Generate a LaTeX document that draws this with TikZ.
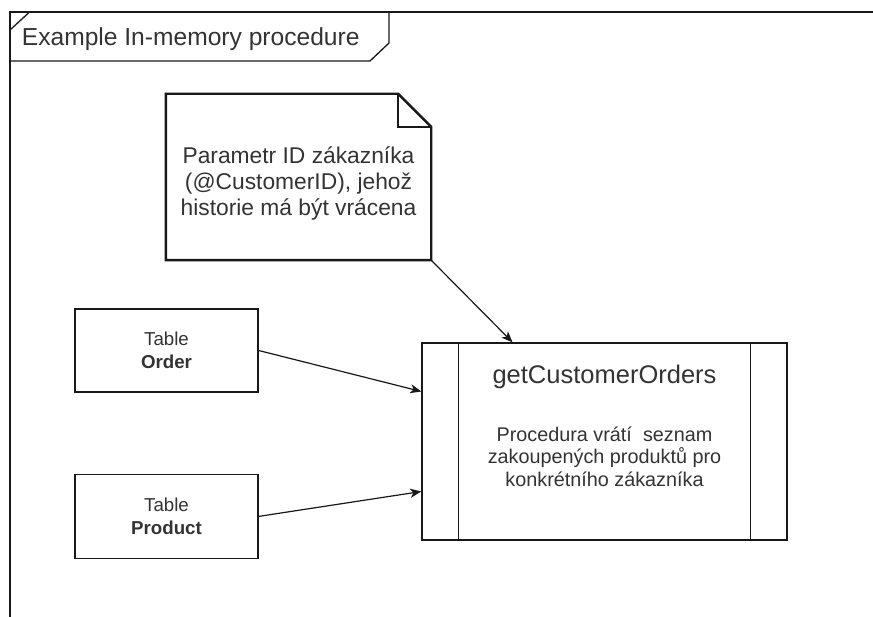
\documentclass[tikz,border=0pt]{standalone}
\usepackage{fontspec}
\setmainfont{Liberation Sans}
\usetikzlibrary{arrows.meta,positioning}
\definecolor{umlline}{RGB}{24,24,24}
\definecolor{umltext}{RGB}{51,51,51}
\tikzstyle{arrow} = [line width=1.2pt,-{Stealth[length=11pt,width=9pt,inset=3pt]},color=umlline]
\tikzstyle{frameline} = [line width=1.3pt, color=umlline]
\tikzstyle{noteline} = [line width=2.4pt, color=umlline, line join=miter]
\tikzstyle{notebox} = [rectangle, minimum width=265pt, minimum height=166pt]
\tikzstyle{tablebox} = [rectangle, draw=umlline, line width=1.4pt, minimum width=183pt,
    minimum height=83pt, text=umltext, align=center, font=\fontsize{18.7}{22.7}\selectfont]
\tikzstyle{procbox} = [rectangle, draw=umlline, line width=1.4pt, minimum width=365pt, minimum height=197pt]

\begin{document}
\begin{tikzpicture}[x=1pt, y=-1pt, >=Stealth]
\useasboundingbox (0,0) rectangle (873,617);
\draw[frameline] (10,617) -- (10,12) -- (873,12);
\node[anchor=base west, inner sep=0pt, text=umltext, font=\fontsize{24.6}{29}\selectfont] (title) at (21.7,45.5) {Example In-memory procedure};
\draw[frameline] (10,61) -- (370,61) -- (389,43) -- (389,12);
\draw[frameline] (10,30) -- (28.5,13);
\node[notebox] (param) at (298.5,177) {};
\draw[noteline] (param.north west) -- ([xshift=-33pt]param.north east) -- ([yshift=-33pt]param.north east)
    -- (param.south east) -- (param.south west) -- cycle;
\draw[noteline] ([xshift=-33pt]param.north east) |- ([yshift=-33pt]param.north east);
\node[text=umltext, align=center, font=\fontsize{22.8}{26}\selectfont] (paramtext) at ([yshift=-6.5pt]param.center)
    {Parametr ID zákazníka\\(@CustomerID), jehož\\historie má být vrácena};
\node[tablebox] (order) at (166.5,350.5) {Table\\\textbf{Order}};
\node[tablebox, minimum height=84pt, below=81pt of order] (product) {Table\\\textbf{Product}};
\node[procbox] (proc) at (604.5,441.5) {};
\draw[frameline] ([xshift=37pt]proc.north west) -- ([xshift=37pt]proc.south west);
\draw[frameline] ([xshift=-37pt]proc.north east) -- ([xshift=-37pt]proc.south east);
\node[text=umltext, font=\fontsize{25.5}{30}\selectfont] (proctitle) at ([yshift=-35pt]proc.north) {getCustomerOrders};
\node[text=umltext, align=center, font=\fontsize{19.8}{22.5}\selectfont] (procdesc) at ([yshift=-15pt]proc.center)
    {Procedura vrátí\ \ seznam\\zakoupených produktů pro\\konkrétního zákazníka};
\draw[arrow] (order.east) -- ([yshift=50pt]proc.west);
\draw[arrow] (product.east) -- ([yshift=-50pt]proc.west);
\draw[arrow] (param.south east) -- ([xshift=-92pt]proc.north);
\end{tikzpicture}
\end{document}
